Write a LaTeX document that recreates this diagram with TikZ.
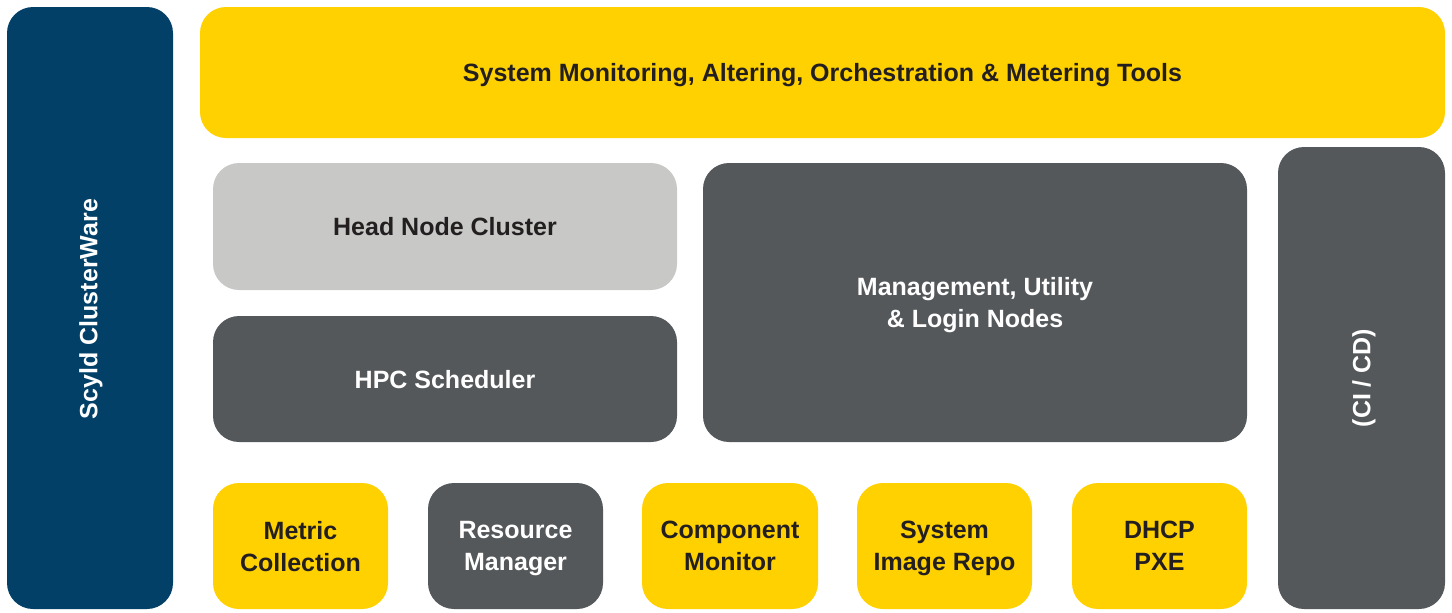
\documentclass[tikz,border=0pt]{standalone}
\usepackage{fontspec}
\setmainfont{Liberation Sans}
\definecolor{navyA}{RGB}{3, 64, 104}
\definecolor{goldA}{RGB}{255, 209, 0}
\definecolor{greyA}{RGB}{200, 201, 199}
\definecolor{greyB}{RGB}{84, 88, 90}
\definecolor{inkA} {RGB}{35, 31, 32}

\begin{document}
\begin{tikzpicture}[x=0.5pt, y=-0.5pt,
    block/.style={rectangle, rounded corners=13pt, inner sep=0pt, align=center,
      text depth=0pt, font=\bfseries\fontsize{12.5}{16}\selectfont},
    gold/.style={block, fill=goldA, text=inkA},
    dark/.style={block, fill=greyB, text=white},
    light/.style={block, fill=greyA, text=inkA},
    navy/.style={block, fill=navyA, text=white},
    sidetext/.style={text=white, font=\bfseries\fontsize{12.5}{16}\selectfont, rotate=90}]
  \useasboundingbox (0,0) rectangle (1452,612);

  \node[navy, minimum width=83pt, minimum height=301pt] (scyld) at (90,308) {};
  \node[sidetext] (scyldtext) at (91,309) {Scyld ClusterWare};

  \node[gold, minimum width=622.5pt, minimum height=65.5pt] (tools) at (822.5,72.5)
    {System Monitoring, Altering, Orchestration \& Metering Tools};

  \node[light, minimum width=232pt, minimum height=63.5pt] (head) at (445,226.5) {Head Node Cluster};
  \node[dark, minimum width=232pt, minimum height=63pt] (hpc) at (445,379) {HPC Scheduler};
  \node[dark, minimum width=272pt, minimum height=139.5pt] (mgmt) at (975,302.5)
    {Management, Utility\\\& Login Nodes};

  \node[dark, minimum width=83.5pt, minimum height=231pt] (cicd) at (1361.5,378) {};
  \node[sidetext] (cicdtext) at (1364,378) {(CI / CD)};

  \node[gold, minimum width=87.5pt, minimum height=63pt] (metric) at (300.5,546) {Metric\\Collection};
  \node[dark, minimum width=87.5pt, minimum height=63pt] (resource) at (515.5,546) {Resource\\Manager};
  \node[gold, minimum width=88pt, minimum height=63pt] (component) at (730,546) {Component\\Monitor};
  \node[gold, minimum width=87.5pt, minimum height=63pt] (image) at (944.5,546) {System\\Image Repo};
  \node[gold, minimum width=87.5pt, minimum height=63pt] (dhcp) at (1159.5,546) {DHCP\\PXE};
\end{tikzpicture}
\end{document}
